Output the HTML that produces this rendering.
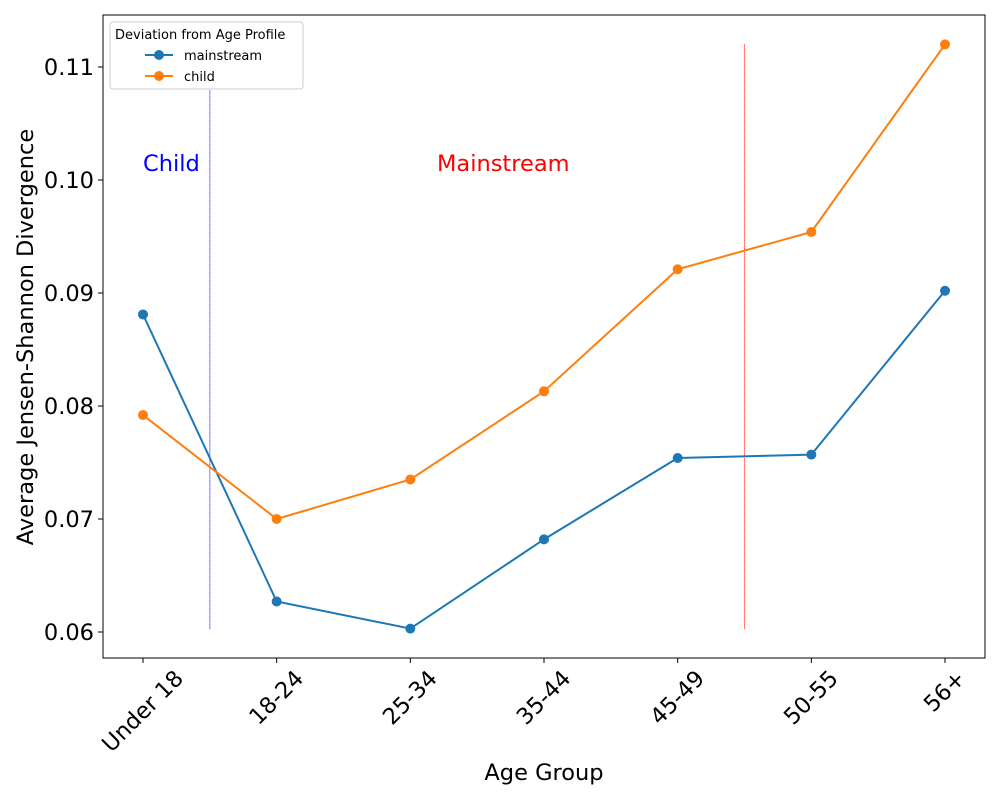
<!DOCTYPE html>
<html><head><meta charset="utf-8"><style>body{margin:0;background:#fff}svg{font-family:"DejaVu Sans","Liberation Sans",sans-serif}</style></head>
<body>
<svg id="c" width="1000" height="800"></svg>
<script>
const categories=["Under 18","18-24","25-34","35-44","45-49","50-55","56+"];
const mainstream=[0.0881,0.0627,0.0603,0.0682,0.0754,0.0757,0.0902];
const child=[0.0792,0.0700,0.0735,0.0813,0.0921,0.0954,0.1120];
const yTicks=[0.06,0.07,0.08,0.09,0.10,0.11];
const yTickLabels=["0.06","0.07","0.08","0.09","0.10","0.11"];
const NS="http://www.w3.org/2000/svg";
const svg=document.getElementById('c');
const L=103,R=985,T=15,B=658;
const x=i=>143+i*(945-143)/6;
const y=v=>632-(v-0.06)*11300;
function el(t,a,p){const e=document.createElementNS(NS,t);for(const k in a)e.setAttribute(k,a[k]);(p||svg).appendChild(e);return e;}
yTicks.forEach((v,i)=>{
 const t=el('line',{x1:L-5,x2:L,y1:y(v),y2:y(v),stroke:'#000'});
 
 
 const tx=el('text',{x:L-9,y:y(v)+8,'text-anchor':'end','font-size':22.5});tx.textContent=yTickLabels[i];
 
 
});
categories.forEach((c,i)=>{
 const t=el('line',{x1:x(i),x2:x(i),y1:B,y2:B+5,stroke:'#000'});
 
 
 const tx=el('text',{x:0,y:0,'text-anchor':'middle','dominant-baseline':'central','font-size':22.5});tx.textContent=c;
 
 
 const w=tx.getComputedTextLength(), h=22;
 const cy=B+9+(w+h)/Math.SQRT2/2;
 tx.setAttribute('x',x(i));tx.setAttribute('y',cy);
 tx.setAttribute('transform',`rotate(-45 ${x(i)} ${cy})`);
});
const vb=el('line',{x1:x(0.5),x2:x(0.5),y1:y(0.112),y2:y(0.06025),stroke:'#0000ff','stroke-width':1,'stroke-dasharray':'1,1'});


const vr=el('line',{x1:x(4.5),x2:x(4.5),y1:y(0.112),y2:y(0.06025),stroke:'#ff0000','stroke-width':1,'stroke-dasharray':'1,1'});


const t1=el('text',{x:143,y:171,fill:'blue','font-size':22.5});t1.textContent='Child';


const t2=el('text',{x:437,y:171,fill:'red','font-size':22.5});t2.textContent='Mainstream';


function series(arr,col,name){
 const p=el('polyline',{points:arr.map((v,i)=>x(i)+','+y(v)).join(' '),fill:'none',stroke:col,'stroke-width':2});
 
 
 arr.forEach((v,i)=>{const c=el('circle',{cx:x(i),cy:y(v),r:5,fill:col});
 
 });
}
series(mainstream,'#1f77b4','mainstream');
series(child,'#ff7f0e','child');
const fr=el('rect',{x:L,y:T,width:R-L,height:B-T,fill:'none',stroke:'#000','stroke-width':1});


const lg=el('g',{});


el('rect',{x:110,y:22,width:193,height:67,rx:3,fill:'#fff',stroke:'#ccc'},lg);
const lt=el('text',{x:115,y:39,'font-size':13},lg);lt.textContent='Deviation from Age Profile';
[['mainstream','#1f77b4',55],['child','#ff7f0e',76]].forEach(([n,c,yy])=>{
 el('line',{x1:145,x2:173,y1:yy,y2:yy,stroke:c,'stroke-width':2},lg);
 el('circle',{cx:159,cy:yy,r:5,fill:c},lg);
 const t=el('text',{x:184,y:yy+5,'font-size':13},lg);t.textContent=n;
 
 
});
const xl=el('text',{x:544,y:780,'text-anchor':'middle','font-size':22.5});xl.textContent='Age Group';


const yl=el('text',{x:33,y:337,'text-anchor':'middle','font-size':22.5,transform:'rotate(-90 33 337)'});yl.textContent='Average Jensen-Shannon Divergence';


</script>
</body></html>
